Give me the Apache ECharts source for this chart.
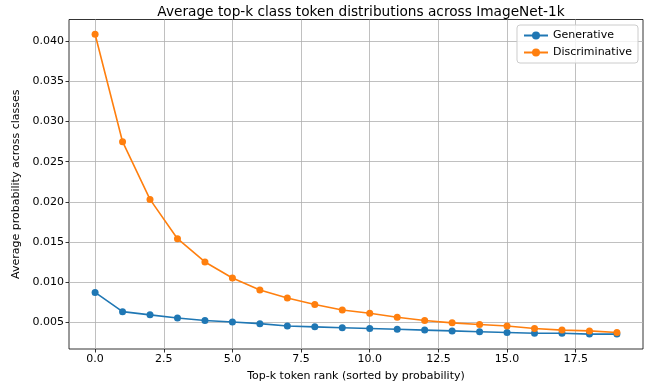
<!DOCTYPE html>
<html><head><meta charset="utf-8">
<script src="https://cdn.jsdelivr.net/npm/echarts@6/dist/echarts.min.js"></script>
<style>html,body{margin:0;padding:0;background:#fff}#c{width:648px;height:387px}</style>
</head><body><div id="c"></div>
<script>
const ranks = [0,1,2,3,4,5,6,7,8,9,10,11,12,13,14,15,16,17,18,19];
const generative = [0.0087,0.0063,0.0059,0.0055,0.0052,0.0050,0.0048,0.0045,0.0044,0.0043,0.0042,0.0041,0.0040,0.0039,0.0038,0.0037,0.0036,0.0036,0.0035,0.0035];
const discriminative = [0.0409,0.0275,0.0203,0.0154,0.0125,0.0105,0.0090,0.0080,0.0072,0.0065,0.0061,0.0056,0.0052,0.0049,0.0047,0.0045,0.0042,0.0040,0.0039,0.0037];
const xTicks = [0,2.5,5,7.5,10,12.5,15,17.5];
const yTicks = [0.005,0.010,0.015,0.020,0.025,0.030,0.035,0.040];

const font = 'DejaVu Sans';
const chart = echarts.init(document.getElementById('c'), null, {renderer:'canvas'});
const mk = (name, data, color) => ({
  name, type:'line', data: ranks.map((r,i)=>[r,data[i]]),
  symbol:'circle', symbolSize:7, showSymbol:true,
  lineStyle:{color, width:1.6}, itemStyle:{color},
  emphasis:{disabled:true}, animation:false, z:3
});
chart.setOption({
  animation:false,
  title:{text:'Average top-k class token distributions across ImageNet-1k', left:356, top:0, textAlign:'center',
    textStyle:{fontFamily:font, fontSize:13.7, fontWeight:'normal', color:'#000'}},
  legend:{right:10, top:25, orient:'vertical', itemWidth:24, itemHeight:10, itemGap:6,
    backgroundColor:'rgba(255,255,255,0.8)', borderColor:'#cccccc', borderWidth:1, borderRadius:3,
    padding:[5,6,5,6], textStyle:{fontFamily:font, fontSize:11, color:'#000'},
    data:['Generative','Discriminative']},
  grid:{left:69, right:5, top:19.5, bottom:37, show:true, borderColor:'#000', borderWidth:0.8, containLabel:false},
  xAxis:{type:'value', min:-0.95, max:19.95,
    name:'Top-k token rank (sorted by probability)', nameLocation:'middle', nameGap:22,
    nameTextStyle:{fontFamily:font, fontSize:11, color:'#000'},
    axisLine:{show:false, onZero:false},
    axisTick:{show:true, customValues:xTicks, length:3.5, lineStyle:{color:'#000', width:0.8}},
    axisLabel:{customValues:xTicks, fontFamily:font, fontSize:11, color:'#000', margin:5, formatter:v=>v.toFixed(1)},
    splitLine:{show:true, lineStyle:{color:'#b0b0b0', width:0.8}}},
  yAxis:{type:'value', min:0.00164, max:0.04274,
    name:'Average probability across classes', nameLocation:'middle', nameGap:43,
    nameTextStyle:{fontFamily:font, fontSize:11, color:'#000'},
    axisLine:{show:false, onZero:false},
    axisTick:{show:true, customValues:yTicks, length:3.5, lineStyle:{color:'#000', width:0.8}},
    axisLabel:{customValues:yTicks, fontFamily:font, fontSize:11, color:'#000', margin:5, formatter:v=>v.toFixed(3)},
    splitLine:{show:true, lineStyle:{color:'#b0b0b0', width:0.8}}},
  series:[mk('Generative', generative, '#1f77b4'), mk('Discriminative', discriminative, '#ff7f0e')]
});
</script></body></html>
